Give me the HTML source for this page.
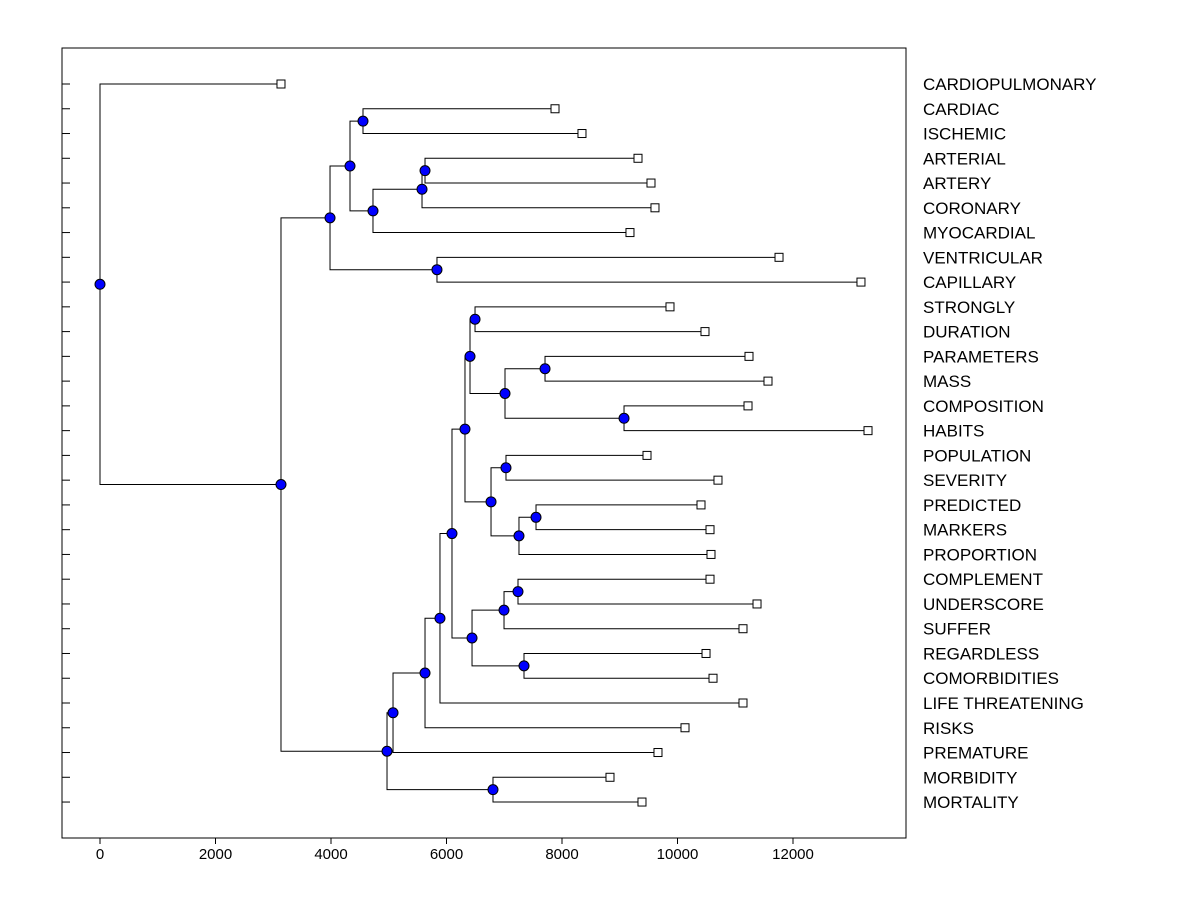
<!DOCTYPE html>
<html><head><meta charset="utf-8"><style>
body{margin:0;background:#fff;}
svg{display:block;font-family:"Liberation Sans",Arial,sans-serif;}
</style></head><body>
<svg id="chart" width="1200" height="900">
<rect x="62" y="48" width="844" height="790" fill="none" stroke="#000" stroke-width="1"/>
<g id="ticks"></g><g id="links"></g><g id="marks"></g><g id="labels"></g>
</svg>
<script>
const leafNames=["CARDIOPULMONARY","CARDIAC","ISCHEMIC","ARTERIAL","ARTERY","CORONARY","MYOCARDIAL","VENTRICULAR","CAPILLARY","STRONGLY","DURATION","PARAMETERS","MASS","COMPOSITION","HABITS","POPULATION","SEVERITY","PREDICTED","MARKERS","PROPORTION","COMPLEMENT","UNDERSCORE","SUFFER","REGARDLESS","COMORBIDITIES","LIFE THREATENING","RISKS","PREMATURE","MORBIDITY","MORTALITY"];
const leafValues=[3134,7879,8346,9316,9541,9610,9177,11758,13177,9870,10476,11238,11567,11221,13299,9472,10701,10407,10563,10580,10563,11377,11134,10494,10615,11134,10130,9662,8831,9385];
// merges: [childA, childB, height]; leaves are "L#", internal nodes "N#"
const merges=[
["L1","L2",4554],["L3","L4",5628],["N1","L5",5576],["N2","L6",4727],["N0","N3",4329],
["L7","L8",5835],["N4","N5",3983],["L9","L10",6494],["L11","L12",7706],["L13","L14",9074],
["N8","N9",7013],["N7","N10",6407],["L15","L16",7030],["L17","L18",7550],["N13","L19",7255],
["N12","N14",6771],["N11","N15",6320],["L20","L21",7238],["N17","L22",6996],["L23","L24",7342],
["N18","N19",6442],["N16","N20",6095],["N21","L25",5887],["N22","L26",5628],["N23","L27",5074],
["L28","L29",6805],["N24","N25",4970],["N6","N26",3134],["L0","N27",0]];
const xTicks=[0,2000,4000,6000,8000,10000,12000];
const xs=v=>100+v*0.05775, ys=i=>84+i*24.76;
const NS="http://www.w3.org/2000/svg";
function mk(t,a,p){const e=document.createElementNS(NS,t);for(const k in a)e.setAttribute(k,a[k]);document.getElementById(p).appendChild(e);return e;}
xTicks.forEach(t=>{
 const l=mk("line",{x1:xs(t),x2:xs(t),y1:838,y2:844,stroke:"#000"},"ticks");
 
 
 const tx=mk("text",{x:xs(t),y:859,"text-anchor":"middle","font-size":"15"},"ticks");tx.textContent=t;
 
 
});
const pos={};
leafNames.forEach((n,i)=>{
 pos["L"+i]={x:xs(leafValues[i]),y:ys(i)};
 const t=mk("line",{x1:62,x2:70,y1:ys(i),y2:ys(i),stroke:"#000"},"ticks");
 
 
 const lb=mk("text",{x:923,y:ys(i)+6,"font-size":"17"},"labels");lb.textContent=n;
 
 
});
const nodes=[];
merges.forEach((m,k)=>{
 const a=pos[m[0]],b=pos[m[1]],x=xs(m[2]),y=(a.y+b.y)/2;
 pos["N"+k]={x,y};
 const p=mk("path",{d:`M${a.x},${a.y}H${x}V${b.y}H${b.x}`,fill:"none",stroke:"#000","stroke-width":1},"links");
 
 
 nodes.push({x,y});
});
leafNames.forEach((n,i)=>{
 const r=mk("rect",{x:pos["L"+i].x-4,y:pos["L"+i].y-4,width:8,height:8,fill:"#fff",stroke:"#000"},"marks");
 
 
});
nodes.forEach(n=>{
 const c=mk("circle",{cx:n.x,cy:n.y,r:5,fill:"#0000ff",stroke:"#000"},"marks");
 
 
});
</script>
</body></html>
